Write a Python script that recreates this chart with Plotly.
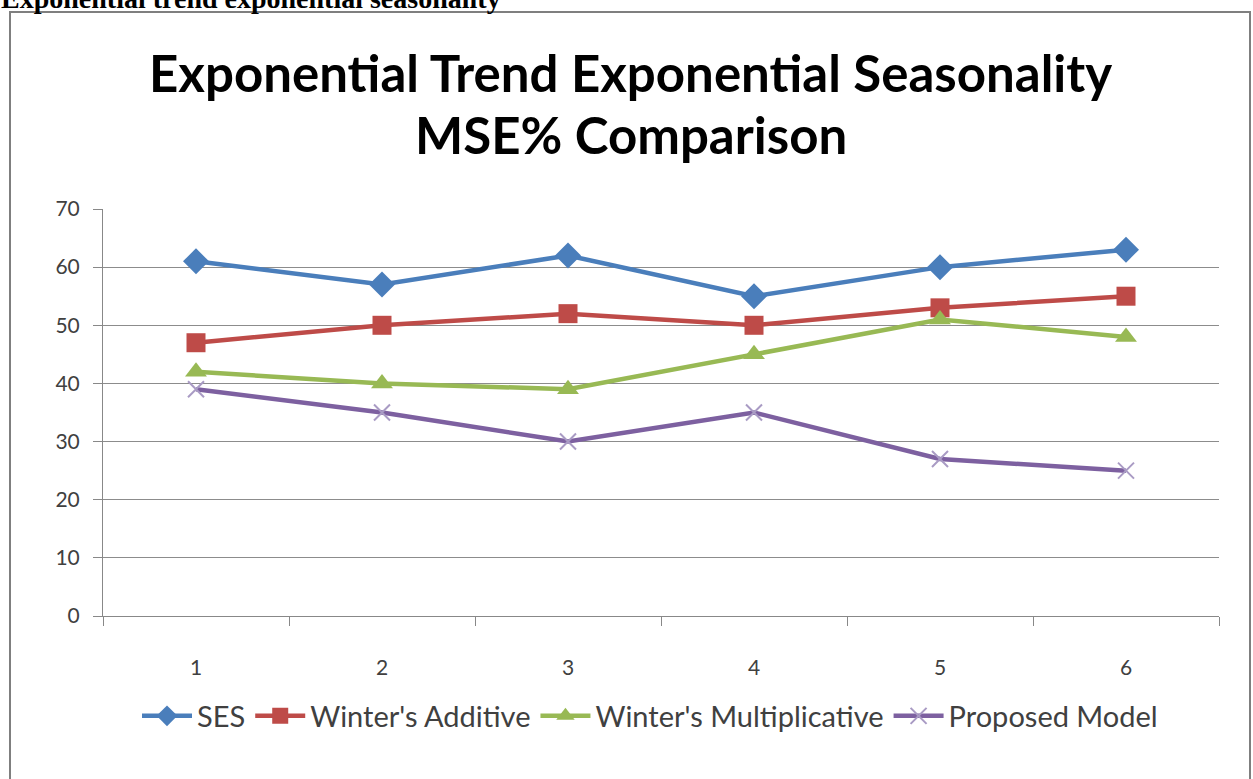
import plotly.graph_objects as go

W, H = 1253, 779

categories = ["1", "2", "3", "4", "5", "6"]
ses = [61, 57, 62, 55, 60, 63]
winters_additive = [47, 50, 52, 50, 53, 55]
winters_multiplicative = [42, 40, 39, 45, 51, 48]
proposed_model = [39, 35, 30, 35, 27, 25]
y_ticks = [0, 10, 20, 30, 40, 50, 60, 70]

series = [
    ("SES", ses, "#4A7EBB", "diamond", 20, 4.5),
    ("Winter's Additive", winters_additive, "#BE4B48", "square", 19, 4.5),
    ("Winter's Multiplicative", winters_multiplicative, "#98B954", "triangle-up", 19, 4.5),
    ("Proposed Model", proposed_model, "#7D60A0", "x-thin", 16, 4.5),
]

def px(x):
    return x / W

def py(y):
    return 1 - y / H

fig = go.Figure()
for name, vals, color, sym, size, lw in series:
    marker = dict(symbol=sym, size=size, color=color)
    if sym == "x-thin":
        marker = dict(symbol=sym, size=size, color="#A99BC4",
                      line=dict(width=2, color="#A99BC4"))
    fig.add_trace(go.Scatter(
        x=categories, y=vals, name=name, mode="lines+markers",
        line=dict(color=color, width=lw), marker=marker,
    ))

axis_font = dict(family="Lato, Carlito, sans-serif", size=21, color="#404040")

fig.update_layout(
    width=W, height=H,
    margin=dict(l=0, r=0, t=0, b=0, autoexpand=False),
    paper_bgcolor="white", plot_bgcolor="white",
    showlegend=True,
    legend=dict(orientation="h", x=px(650), xanchor="center", y=py(716), yanchor="middle",
                font=dict(family="Lato, Carlito, sans-serif", size=29, color="#404040"),
                itemwidth=50, tracegroupgap=0, bgcolor="rgba(0,0,0,0)"),
    xaxis=dict(domain=[px(103), px(1219)], type="category", tickson="boundaries",
               ticks="outside", ticklen=9, tickcolor="#888888", tickwidth=1,
               showline=True, linecolor="#888888", linewidth=1,
               showgrid=False, tickfont=axis_font, anchor="y",
               range=[-0.5, 5.5], ticklabelstandoff=33),
    yaxis=dict(domain=[py(616), py(209)], range=[0, 70], tickvals=y_ticks,
               ticks="outside", ticklen=9, tickcolor="#888888",
               showline=True, linecolor="#888888", linewidth=1,
               showgrid=True, gridcolor="#8C8C8C", gridwidth=1,
               zeroline=False, tickfont=axis_font, ticklabelstandoff=9),
    shapes=[
        dict(type="rect", xref="paper", yref="paper",
             x0=px(10), x1=px(1250), y0=py(790), y1=py(12),
             line=dict(color="#7F7F7F", width=2), fillcolor="rgba(0,0,0,0)", layer="below"),
    ],
    annotations=[
        dict(text="<b>Exponential trend exponential seasonality</b>", xref="paper", yref="paper",
             x=px(-1), xanchor="left", y=py(-2), yanchor="middle", showarrow=False,
             font=dict(family="Liberation Serif, serif", size=28, color="black")),
        dict(text="<b>Exponential Trend Exponential Seasonality</b>", xref="paper", yref="paper",
             x=px(630), xanchor="center", y=py(72), yanchor="middle", showarrow=False,
             font=dict(family="Lato, Carlito, sans-serif", size=51, color="black")),
        dict(text="<b>MSE% Comparison</b>", xref="paper", yref="paper",
             x=px(631), xanchor="center", y=py(134), yanchor="middle", showarrow=False,
             font=dict(family="Lato, Carlito, sans-serif", size=51, color="black")),
    ],
)

fig.write_html("out.html", config={"displayModeBar": False},
               post_script="document.body.style.margin='0';document.body.style.overflow='hidden';")
